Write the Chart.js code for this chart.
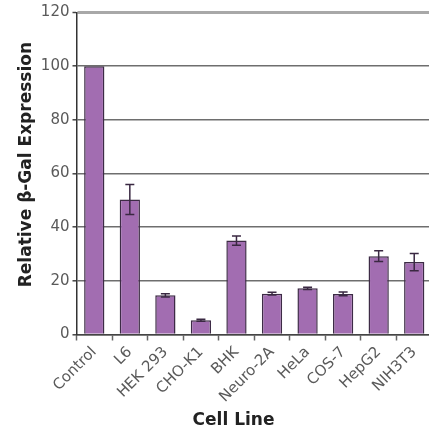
<!DOCTYPE html>
<html>
<head>
<meta charset="utf-8">
<script src="https://cdn.jsdelivr.net/npm/chart.js@4"></script>
<style>
html,body{margin:0;padding:0;background:#fff;overflow:hidden;}
canvas{display:block;}
</style>
</head>
<body>
<canvas id="c" width="432" height="434"></canvas>
<script>
const categories = ["Control","L6","HEK 293","CHO-K1","BHK","Neuro-2A","HeLa","COS-7","HepG2","NIH3T3"];
const expression = [100, 50.3, 14.6, 5.3, 35, 15.2, 17.2, 15.1, 29.2, 27];
const errors = [0, 5.6, 0.6, 0.4, 1.7, 0.5, 0.4, 0.7, 2, 3.2];
const yTicks = [0, 20, 40, 60, 80, 100, 120];
const yTitle = "   Relative \u03b2-Gal Expression";
const xTitle = "Cell Line       ";

const errorBars = {
  id: 'errorBars',
  afterDatasetsDraw(chart) {
    const ctx = chart.ctx;
    const meta = chart.getDatasetMeta(0);
    const y = chart.scales.y;
    ctx.save();
    ctx.strokeStyle = '#3a2842';
    ctx.lineWidth = 1.5;
    meta.data.forEach((bar, i) => {
      const e = errors[i];
      if (!e) return;
      const yTop = y.getPixelForValue(expression[i] + e);
      const yBot = y.getPixelForValue(expression[i] - e);
      const x = bar.x;
      ctx.beginPath();
      ctx.moveTo(x, yTop); ctx.lineTo(x, yBot);
      ctx.moveTo(x - 4.5, yTop); ctx.lineTo(x + 4.5, yTop);
      ctx.moveTo(x - 4.5, yBot); ctx.lineTo(x + 4.5, yBot);
      ctx.stroke();
    });
    ctx.restore();
  }
};

new Chart(document.getElementById('c'), {
  type: 'bar',
  data: {
    labels: categories,
    datasets: [{
      data: expression,
      backgroundColor: '#a26db1',
      borderColor: '#3d2b46',
      borderWidth: 1.5,
      categoryPercentage: 1,
      barPercentage: 0.57
    }]
  },
  options: {
    responsive: false,
    animation: false,
    events: [],
    layout: { padding: { top: 12.5, left: 0, right: 0, bottom: 0 } },
    plugins: { legend: { display: false }, tooltip: { enabled: false } },
    scales: {
      x: {
        grid: { drawOnChartArea: false, drawTicks: true, tickLength: 6, tickColor: '#666', tickWidth: 1.5, offset: true },
        border: { color: '#444', width: 1.5 },
        ticks: {
          minRotation: 45, maxRotation: 45, padding: 3,
          color: '#5a5a5a',
          font: { family: 'DejaVu Sans', size: 15 }
        },
        title: {
          display: true, text: xTitle, color: '#222',
          font: { family: 'DejaVu Sans', size: 17, weight: 'bold' },
          padding: { top: 0, bottom: 3 }
        },
        afterFit(s) { s.height = 99.5; s.paddingLeft = 0; s.paddingRight = 0; }
      },
      y: {
        min: 0, max: 120,
        afterBuildTicks(s) { s.ticks = yTicks.map(v => ({ value: v })); },
        grid: {
          color: c => (c.index === yTicks.length - 1) ? '#a8a8a8' : '#6e6e6e',
          lineWidth: c => (c.index === yTicks.length - 1) ? 3 : 1.6,
          drawTicks: true, tickLength: 4, tickColor: '#444', tickWidth: 1.5
        },
        border: { color: '#333', width: 1.5 },
        ticks: {
          padding: 3, color: '#5a5a5a',
          font: { family: 'DejaVu Sans', size: 15 }
        },
        title: {
          display: true, text: yTitle, color: '#222',
          font: { family: 'DejaVu Sans', size: 17, weight: 'bold' },
          padding: { top: 16, bottom: 0 }
        },
        afterFit(s) { s.width = 76.5; }
      }
    }
  },
  plugins: [errorBars]
});
</script>
</body>
</html>
